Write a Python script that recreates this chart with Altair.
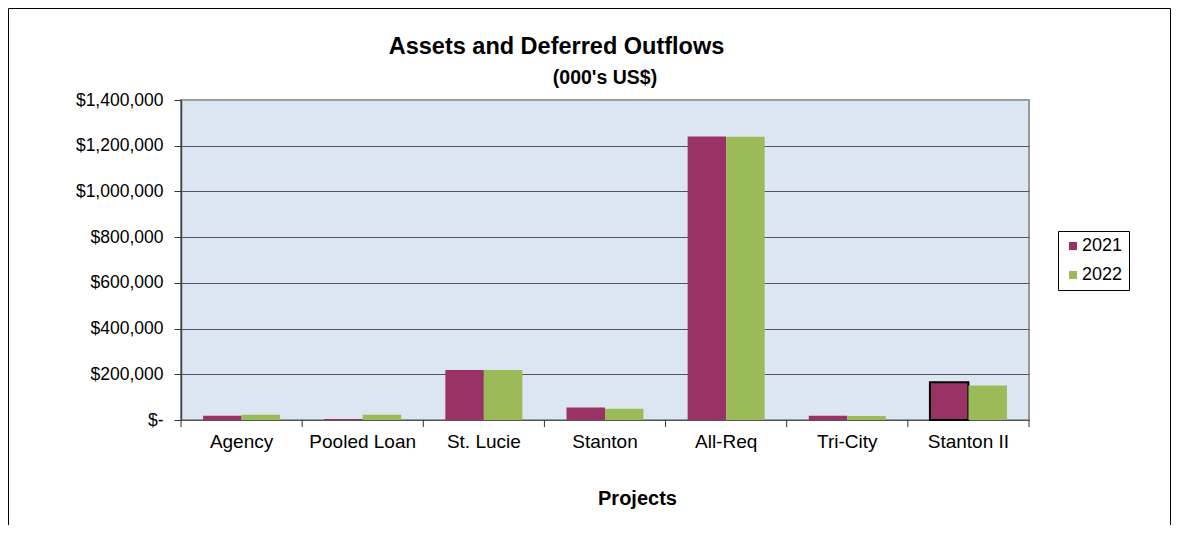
import altair as alt
import pandas as pd

# ---- data ----
projects = ["Agency", "Pooled Loan", "St. Lucie", "Stanton", "All-Req", "Tri-City", "Stanton II"]
years = ["2021", "2022"]
v2021 = [19000, 4000, 219000, 55000, 1240000, 19000, 165000]
v2022 = [23000, 23000, 219000, 49000, 1239000, 17000, 151000]
y_ticks = [0, 200000, 400000, 600000, 800000, 1000000, 1200000, 1400000]
title_text = "Assets and Deferred Outflows"
subtitle_text = "(000's US$)"
x_title = "Projects"
colors = ["#993366", "#9BBB59"]

df = pd.DataFrame({
    "project": projects * 2,
    "year": [years[0]] * len(projects) + [years[1]] * len(projects),
    "value": v2021 + v2022,
})
cats = pd.DataFrame({"project": projects})

FONT = "Liberation Sans"
W, H = 848, 320

xscale = alt.Scale(domain=projects, paddingInner=0, paddingOuter=0)

bars = alt.Chart(df).mark_bar(strokeWidth=2).encode(
    x=alt.X("project:N", scale=xscale, axis=None),
    xOffset=alt.XOffset("year:N", scale=alt.Scale(domain=years, paddingInner=0, paddingOuter=0.573)),
    y=alt.Y(
        "value:Q",
        scale=alt.Scale(domain=[0, 1400000], nice=False, zero=True),
        axis=alt.Axis(
            values=y_ticks,
            labelExpr="datum.value == 0 ? '$-' : '$' + format(datum.value, ',')",
            grid=True,
            gridColor=alt.condition("datum.value >= 1400000", alt.value("#a0a0a0"), alt.value("#555555")),
            gridWidth=1,
            tickSize=7,
            tickColor="#333333",
            domainColor="#444444",
            domainWidth=1.5,
            labelFont=FONT,
            labelFontSize=17.5,
            labelColor="black",
            labelPadding=11,
            title=None,
        ),
    ),
    color=alt.Color(
        "year:N",
        scale=alt.Scale(domain=years, range=colors),
        legend=alt.Legend(
            orient="none", legendX=877, legendY=131, title=None,
            symbolType="square", symbolSize=64, symbolStrokeWidth=0,
            labelFont=FONT, labelFontSize=18, labelColor="black",
            strokeColor="black", fillColor="white",
            padding=6, rowPadding=11, labelOffset=0, columnPadding=0,
        ),
    ),
    stroke=alt.condition(
        "datum.project == 'Stanton II' && datum.year == '2021'",
        alt.value("black"), alt.value("transparent"),
    ),
)

ticks = alt.Chart(cats).mark_rule(color="#333333", strokeWidth=1).encode(
    x=alt.X("project:N", scale=xscale, axis=None, bandPosition=0),
    y=alt.value(H), y2=alt.value(H + 7),
)
last_tick = alt.Chart(cats.tail(1)).mark_rule(color="#333333", strokeWidth=1).encode(
    x=alt.X("project:N", scale=xscale, axis=None, bandPosition=1),
    y=alt.value(H), y2=alt.value(H + 7),
)

labels = alt.Chart(cats).mark_text(
    font=FONT, fontSize=19, baseline="alphabetic", align="center", color="black"
).encode(
    x=alt.X("project:N", scale=xscale, axis=None),
    y=alt.value(348),
    text="project:N",
)

frame = alt.Chart(pd.DataFrame({"a": [0]})).mark_rect(
    fill="transparent", stroke="black", strokeWidth=1
).encode(x=alt.value(-172.5), x2=alt.value(989.5), y=alt.value(-91.5), y2=alt.value(440))

def text_layer(txt, size, x, y):
    return alt.Chart(pd.DataFrame({"t": [txt]})).mark_text(
        font=FONT, fontSize=size, fontWeight="bold", baseline="alphabetic",
        align="center", color="black"
    ).encode(text="t:N", x=alt.value(x), y=alt.value(y))

title = text_layer(title_text, 23.5, 375.5, -46)
subtitle = text_layer(subtitle_text, 19.5, 424, -16)
xt = text_layer(x_title, 20, 456.5, 405)

chart = alt.layer(frame, bars, ticks, last_tick, labels, title, subtitle, xt).properties(
    width=W, height=H,
    autosize="none",
    padding={"left": 173, "top": 92, "right": 142, "bottom": 105},
    background="white",
).configure_view(
    fill="#DCE6F2", stroke="#999999", strokeWidth=2
)

chart.save("out.html", embed_options={"renderer": "svg", "actions": False})
